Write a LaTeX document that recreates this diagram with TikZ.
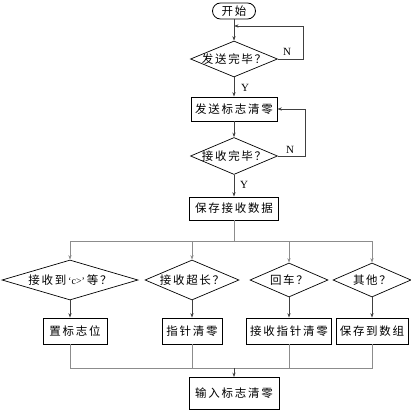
\documentclass[tikz,border=0pt]{standalone}
\usepackage{fontspec}
\setmainfont{Liberation Serif}
\newfontfamily\cjk[LetterSpace=15]{Noto Sans CJK SC}
\usetikzlibrary{shapes.geometric,arrows.meta}
\begin{document}
\begin{tikzpicture}[x=1pt,y=-1pt,
  every node/.style={font=\cjk\fontsize{11.5}{13}\selectfont},
  boxst/.style={draw=black,line width=0.8pt,rectangle,inner sep=0pt},
  diast/.style={draw=black,line width=0.7pt,diamond,inner sep=0pt},
  startst/.style={draw=black,line width=0.8pt,rectangle,rounded corners=8pt,inner sep=0pt,minimum width=43pt,minimum height=16pt},
  conn/.style={draw=black!75,line width=0.6pt},
  bus/.style={draw=black!45,line width=0.7pt},
  arr/.style={-{Stealth[length=4.5pt,width=3.2pt]}},
  lab/.style={font=\fontsize{11}{12}\selectfont,inner sep=0pt}
  ]
\useasboundingbox (0,0) rectangle (411,412);
% main column
\node[startst] (start) at (234,11) {开始};
\node[diast,minimum width=87pt,minimum height=36pt] (d1) at (234,59) {\makebox[0pt]{发送完毕？}};
\node[boxst,minimum width=86pt,minimum height=24pt] (b1) at (234,109) {发送标志清零};
\node[diast,minimum width=87pt,minimum height=37pt] (d2) at (234,156) {\makebox[0pt]{接收完毕？}};
\node[boxst,minimum width=89pt,minimum height=23pt] (b2) at (234,208.5) {保存接收数据};
% row of decisions
\node[diast,minimum width=136pt,minimum height=40pt] (dA) at (70,280) {\makebox[0pt]{接收到\,{\rmfamily\fontsize{10}{12}\selectfont‘c>’}\,等？}};
\node[diast,minimum width=94pt,minimum height=40pt] (dB) at (192,280) {\makebox[0pt]{接收超长？}};
\node[diast,minimum width=78pt,minimum height=34pt] (dC) at (289,280) {\makebox[0pt]{回车？}};
\node[diast,minimum width=78pt,minimum height=34pt] (dD) at (372,280) {\makebox[0pt]{其他？}};
% row of actions
\node[boxst,minimum width=64pt,minimum height=26pt] (bA) at (75,331) {置标志位};
\node[boxst,minimum width=60pt,minimum height=26pt] (bB) at (192,331) {指针清零};
\node[boxst,minimum width=85pt,minimum height=26pt] (bC) at (289,331) {接收指针清零};
\node[boxst,minimum width=72pt,minimum height=26pt] (bD) at (372,331) {保存到数组};
% final
\node[boxst,minimum width=90pt,minimum height=32pt] (fin) at (234,393.5) {输入标志清零};
% labels
\node[lab] (n1) at (287,52) {N};
\node[lab] (y1) at (245,88) {Y};
\node[lab] (n2) at (290,150) {N};
\node[lab] (y2) at (244,185) {Y};
% coordinates
\coordinate (j1) at (234,26);
\coordinate (r1) at (303,59);
\coordinate (r1t) at (303,26);
\coordinate (r2) at (305,156);
\coordinate (r2t) at (305,109);
\coordinate (busc) at (234,241);
\coordinate (busA) at (70,241);
\coordinate (busD) at (372,241);
\coordinate (bot) at (234,368);
% main connectors
\draw[conn,arr] (start) -- (d1);
\draw[conn,arr] (r1t) -- (j1);
\draw[conn] (d1.east) -- (r1) -- (r1t);
\draw[conn,arr] (d1) -- (b1);
\draw[conn,arr] (b1) -- (d2);
\draw[conn] (d2.east) -- (r2) -- (r2t);
\draw[conn,arr] (r2t) -- (b1.east);
\draw[conn,arr] (d2) -- (b2);
% top bus
\draw[bus] (b2) -- (busc);
\draw[bus] (busA) -- (busD);
\draw[bus,arr] (busA) -- (dA.north);
\draw[bus,arr] (busA -| dB) -- (dB.north);
\draw[bus,arr] (busA -| dC) -- (dC.north);
\draw[bus,arr] (busD) -- (dD.north);
% decision to action
\draw[conn,arr] (dA.south) -- (dA.south |- bA.north);
\draw[conn,arr] (dB.south) -- (bB.north);
\draw[conn,arr] (dC.south) -- (bC.north);
\draw[conn,arr] (dD.south) -- (bD.north);
% bottom bus
\draw[bus] (dA.south |- bA.south) -- (dA.south |- bot) -- (bot -| dD) -- (bD.south);
\draw[bus] (bB.south) -- (bot -| bB);
\draw[bus] (bC.south) -- (bot -| bC);
\draw[conn,arr] (bot) -- (fin.north);
\end{tikzpicture}
\end{document}
